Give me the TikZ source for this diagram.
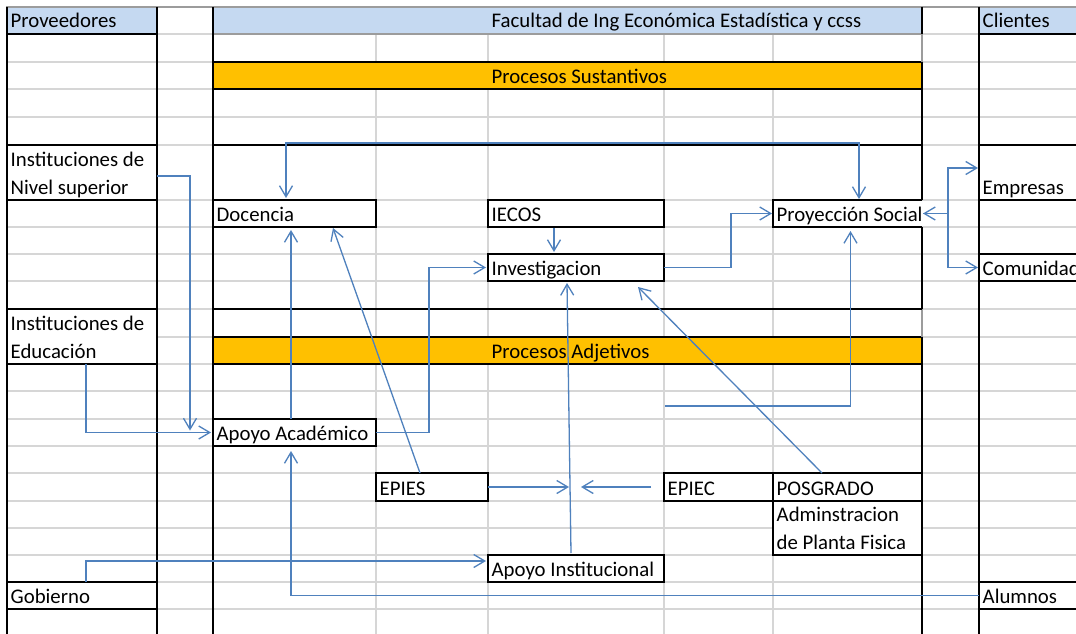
\documentclass[tikz,border=0pt]{standalone}
\usepackage{fontspec}
\setmainfont{Carlito}
\usetikzlibrary{arrows.meta}
\definecolor{hdrblue}{HTML}{C5D9F1}
\definecolor{barorange}{HTML}{FFC000}
\definecolor{linkblue}{HTML}{4F81BD}
\definecolor{gridgray}{HTML}{D6D6D6}
\definecolor{edgegray}{HTML}{9C9C9C}
\newcommand\cellfont{\fontsize{20.8}{24}\selectfont}
% \mkcell[style]{name}{x1}{y1}{x2}{y2}: a sheet cell spanning the given pixel box
\newcommand\mkcell[6][cellbox]{%
  \node[#1, minimum width={#5pt-#3pt}, minimum height={#6pt-#4pt}] (#2) at (#3,#4) {};}

\begin{document}
\begin{tikzpicture}[x=1pt,y=-1pt,
  cellbox/.style={rectangle, draw=black, line width=2.2pt, fill=white,
    inner sep=0pt, outer sep=0pt, anchor=north west},
  bar/.style={cellbox, fill=barorange},
  header/.style={cellbox, fill=hdrblue},
  plaincell/.style={rectangle, fill=white, inner sep=0pt, outer sep=0pt, anchor=north west},
  celltxt/.style={anchor=base west, inner sep=0pt, font=\cellfont, text=black},
  gridline/.style={draw=gridgray, line width=1.3pt},
  rule/.style={draw=black, line width=2.2pt},
  softrule/.style={draw=edgegray, line width=1.3pt},
  conn/.style={draw=linkblue, line width=1.3pt},
  tipend/.style={-{Straight Barb[length=11pt,width=13pt]}},
  tipboth/.style={{Straight Barb[length=11pt,width=13pt]}-{Straight Barb[length=11pt,width=13pt]}},
]
\useasboundingbox (0,0) rectangle (1076,634);
\fill[white] (0,0) rectangle (1076,634);

% light sheet gridlines
\foreach \y in {34,62,89,117,145,200,227,254,281,309,337,364,391,419,446,473,501,528,555,582,609}
  \draw[gridline] (7,\y) -- (1076,\y);
\foreach \x in {376,488,664,773}
  \draw[gridline] (\x,34) -- (\x,634);

% header row
\mkcell[header]{prov}{7}{7}{157}{34}
\node[plaincell, fill=hdrblue, minimum width=709pt, minimum height=27pt] (fac) at (213,7) {};
\mkcell[header]{cli}{979}{7}{1100}{34}

% process bands
\mkcell[bar]{sust}{213}{62}{922}{89}
\mkcell[bar]{adj}{213}{337}{922}{364}

% suppliers
\mkcell{nivsup}{7}{145}{157}{200}
\mkcell{educ}{7}{309}{157}{364}
\mkcell{gob}{7}{582}{157}{609}

% core processes
\mkcell{doc}{213}{200}{376}{227}
\mkcell{iecos}{488}{200}{664}{227}
\mkcell[plaincell]{proy}{773}{200}{922}{227}
\mkcell{inv}{488}{254}{664}{281}

% support processes
\mkcell{apac}{213}{419}{376}{446}
\mkcell{epies}{376}{473}{488}{501}
\mkcell{epiec}{664}{473}{773}{501}
\mkcell{posg}{773}{473}{922}{501}
\mkcell{adm}{773}{501}{922}{555}
\mkcell{apin}{488}{555}{664}{582}

% clients
\mkcell{emp}{979}{145}{1100}{200}
\mkcell{com}{979}{254}{1100}{281}
\mkcell{alum}{979}{582}{1100}{609}

% heavy column and section borders
\draw[softrule] (6,7) -- (1076,7);
\draw[softrule] (213,34) -- (922,34);
\draw[rule] (7,7) -- (7,634);
\draw[rule] (157,7) -- (157,634);
\draw[rule] (213,7) -- (213,634);
\draw[rule] (979,7) -- (979,634);
\draw[rule] (922,7) -- (922,34);
\draw[softrule] (922,34) -- (922,62);
\draw[rule] (922,62) -- (922,200);
\draw[rule] (922,227) -- (922,309);
\draw[softrule] (922,309) -- (922,337);
\draw[rule] (922,337) -- (922,634);
\draw[rule] (213,145) -- (922,145);
\draw[rule] (213,309) -- (922,309);
\draw[rule] (proy.north east) -- (proy.north west) -- (proy.south west) -- (proy.south east);

% cell texts
\node[celltxt] (t-prov) at ([xshift=3.5pt,yshift=6pt]prov.south west) {Proveedores};
\node[celltxt] (t-fac) at ([xshift=278.5pt,yshift=6pt]fac.south west) {Facultad de Ing Económica Estadística y ccss};
\node[celltxt] (t-cli) at ([xshift=3.5pt,yshift=6pt]cli.south west) {Clientes};
\node[celltxt] (t-sust) at ([xshift=278.5pt,yshift=6pt]sust.south west) {Procesos Sustantivos};
\node[celltxt] (t-adj) at ([xshift=278.5pt,yshift=6pt]adj.south west) {Procesos Adjetivos};
\node[celltxt] (t-nivsup1) at ([xshift=3.5pt,yshift=33.5pt]nivsup.south west) {Instituciones de};
\node[celltxt] (t-nivsup2) at ([xshift=3.5pt,yshift=6pt]nivsup.south west) {Nivel superior};
\node[celltxt] (t-educ1) at ([xshift=3.5pt,yshift=33.5pt]educ.south west) {Instituciones de};
\node[celltxt] (t-educ2) at ([xshift=3.5pt,yshift=6pt]educ.south west) {Educación};
\node[celltxt] (t-gob) at ([xshift=3.5pt,yshift=6pt]gob.south west) {Gobierno};
\node[celltxt] (t-doc) at ([xshift=3.5pt,yshift=6pt]doc.south west) {Docencia};
\node[celltxt] (t-iecos) at ([xshift=3.5pt,yshift=6pt]iecos.south west) {IECOS};
\node[celltxt] (t-proy) at ([xshift=3.5pt,yshift=6pt]proy.south west) {Proyección Social};
\node[celltxt] (t-inv) at ([xshift=3.5pt,yshift=6pt]inv.south west) {Investigacion};
\node[celltxt] (t-apac) at ([xshift=3.5pt,yshift=6pt]apac.south west) {Apoyo Académico};
\node[celltxt] (t-epies) at ([xshift=3.5pt,yshift=6pt]epies.south west) {EPIES};
\node[celltxt] (t-epiec) at ([xshift=3.5pt,yshift=6pt]epiec.south west) {EPIEC};
\node[celltxt] (t-posg) at ([xshift=3.5pt,yshift=6pt]posg.south west) {POSGRADO};
\node[celltxt] (t-adm1) at ([xshift=3.5pt,yshift=33.5pt]adm.south west) {Adminstracion};
\node[celltxt] (t-adm2) at ([xshift=3.5pt,yshift=6pt]adm.south west) {de Planta Fisica};
\node[celltxt] (t-apin) at ([xshift=3.5pt,yshift=6pt]apin.south west) {Apoyo Institucional};
\node[celltxt] (t-emp) at ([xshift=3.5pt,yshift=6pt]emp.south west) {Empresas};
\node[celltxt] (t-com) at ([xshift=3.5pt,yshift=6pt]com.south west) {Comunidad};
\node[celltxt] (t-alum) at ([xshift=3.5pt,yshift=6pt]alum.south west) {Alumnos};

% flows between cells
\coordinate (feed) at (665,406);
\coordinate (merge) at (570,487);
\draw[conn,tipboth] ([xshift=-8.5pt,yshift=2pt]doc.north) -- ++(0,-55) -| ([xshift=11.5pt,yshift=1pt]proy.north);
\draw[conn,tipend] ([yshift=-3.5pt]nivsup.east) -| ([xshift=-23pt,yshift=2pt]apac.west);
\draw[conn,tipend] ([xshift=4pt]educ.south) |- ([xshift=-2pt]apac.west);
\draw[conn,tipend] ([xshift=-3.5pt]apac.north) -- ([xshift=-3.5pt,yshift=-3pt]doc.south);
\draw[conn,tipend] ([xshift=-12pt]epies.north) -- ([xshift=38.5pt,yshift=-1pt]doc.south);
\draw[conn,tipend] (apac.east) -- ++(53,0) |- ([xshift=-2pt]inv.west);
\draw[conn,tipend] ([xshift=-22pt,yshift=-1pt]iecos.south) -- ([xshift=-22pt,yshift=2pt]inv.north);
\draw[conn,tipend] ([xshift=-5pt,yshift=2pt]apin.north) -- ([xshift=-9pt,yshift=-2pt]inv.south);
\draw[conn,tipend] ([xshift=-25.5pt]posg.north) -- ([xshift=62pt,yshift=-6pt]inv.south);
\draw[conn,tipend] (inv.east) -- ++(67,0) |- ([xshift=-1pt]proy.west);
\draw[conn,tipend] (feed) -| ([xshift=3pt,yshift=-4pt]proy.south);
\draw[conn,tipboth] ([xshift=1pt]proy.east) -- ++(25,0) |- ([xshift=-1pt,yshift=4.5pt]emp.west);
\draw[conn,tipend] ([xshift=1pt]proy.east) -- ++(25,0) |- ([xshift=-1pt]com.west);
\draw[conn,tipend] (epies.east) -- ([xshift=-1pt]merge);
\draw[conn,tipend] ([xshift=-13pt]epiec.west) -- ([xshift=11pt]merge);
\draw[conn,tipend] ([xshift=4pt]gob.north) |- ([xshift=-2pt,yshift=7.5pt]apin.west);
\draw[conn,tipend] (alum.west) -| ([xshift=-3.5pt,yshift=-5pt]apac.south);
\end{tikzpicture}
\end{document}
